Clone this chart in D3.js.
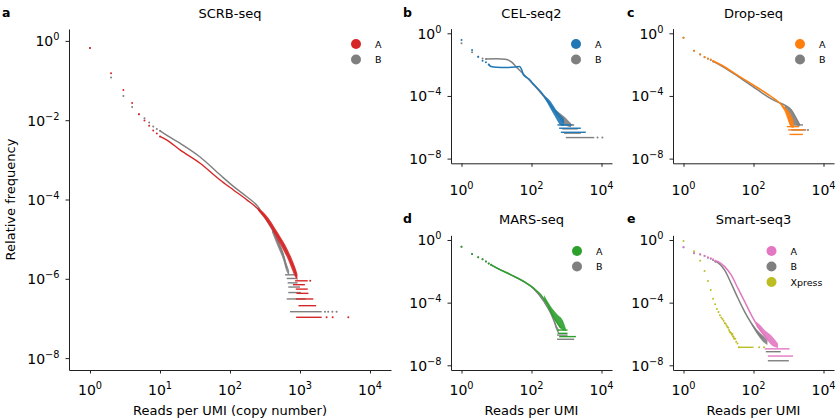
<!DOCTYPE html>
<html><head><meta charset="utf-8">
<script src="https://cdn.jsdelivr.net/npm/d3@7"></script>
<style>body{margin:0;background:#fff} text{font-family:"DejaVu Sans",sans-serif;fill:#000}</style>
</head><body><svg id="c" width="838" height="419"></svg>
<script>
// ---------------- DATA (reads per UMI, relative frequency) ----------------
// a: SCRB-seq
const scrbA_dots = [[1,0.66],[2,0.153],[3,0.058],[4,0.027],[5,0.0141],[6,0.0098],[7,0.0072],[8,0.0055],[9,0.0046],[10,0.0039],[2400,1.07e-7],[2930,1.07e-7],[4900,1.07e-7],[1400,8.9e-7]];
const scrbA_curve = [[10,3.9e-3],[12.4,3.2e-3],[19.3,1.78e-3],[37,8.3e-4],[72,3.1e-4],[112,1.74e-4],[174,9.8e-5],[251,5.8e-5],[316,3.7e-5],[398,2.1e-5],[490,1.15e-5],[575,7.2e-6],[676,4.0e-6],[759,2.45e-6],[851,1.5e-6],[891,1.1e-6]];
const scrbA_band = [[251,5.3e-5,6.2e-5],[316,3.2e-5,4.4e-5],[490,8.9e-6,1.41e-5],[676,3.0e-6,5.2e-6],[851,1.12e-6,2.0e-6],[920,9e-7,1.3e-6]];
const scrbA_tail = [[851,1290,8.9e-7],[795,1175,7.1e-7],[870,1290,5.5e-7],[890,1320,4.3e-7],[870,1550,3.1e-7],[950,1700,2.1e-7],[880,2040,1.07e-7]];
const scrbB_dots = [[1,0.66],[2,0.12],[3,0.041],[4,0.0214],[5,0.0141],[6,0.0112],[7,0.0087],[8,0.0069],[9,0.006],[10,0.0054],[2275,1.48e-7],[2530,1.48e-7],[2900,1.48e-7],[3330,1.48e-7]];
const scrbB_curve = [[10,5.4e-3],[12.4,4.2e-3],[19.3,2.63e-3],[37,1.2e-3],[72,4.2e-4],[112,2.14e-4],[174,1.17e-4],[251,6.6e-5],[316,3.5e-5],[398,1.78e-5],[490,7.9e-6],[575,4.0e-6],[646,1.86e-6]];
const scrbB_band = [[398,1.5e-5,2.0e-5],[490,6.0e-6,9.5e-6],[575,3.0e-6,4.8e-6],[646,1.5e-6,2.4e-6],[700,1.2e-6,1.6e-6]];
const scrbB_tail = [[611,850,1.26e-6],[646,894,1.02e-6],[666,924,7.9e-7],[680,1000,6.2e-7],[680,1030,4.5e-7],[646,1200,3.1e-7],[720,2040,1.48e-7]];

// b: CEL-seq2
const celA_dots = [[1,0.37],[2,0.085],[3,0.032],[4,0.018],[5,0.014],[6,0.01]];
const celA_curve = [[6,0.01],[7,7.6e-3],[10,6.8e-3],[20,6.6e-3],[35,7.1e-3],[45,7.6e-3],[52,5e-3],[58,2.4e-3],[68,1.66e-3],[85,1.2e-3],[100,7.9e-4],[186,1.78e-4],[355,2.5e-5],[550,6.3e-6]];
const celA_band = [[230,7.9e-5,1.12e-4],[290,3.2e-5,7.1e-5],[355,1.41e-5,4.5e-5],[450,5.6e-6,2.0e-5],[550,2.5e-6,1.0e-5],[700,1.26e-6,5.6e-6],[850,1.26e-6,3.5e-6]];
const celA_tail = [[550,1480,1.41e-6],[615,2570,8.7e-7],[690,3550,4.8e-7]];
const celB_dots = [[1,0.23],[2,0.062],[3,0.032],[4,0.025],[5,0.023],[7700,2.2e-7],[10600,2.2e-7]];
const celB_curve = [[5,0.023],[10,0.0234],[18,0.022],[26,0.0155],[40,5.9e-3],[96,8.1e-4],[229,8.9e-5],[447,1.29e-5],[700,3.5e-6],[850,2.3e-6]];
const celB_band = [[500,9e-6,1.26e-5],[700,2.5e-6,7.1e-6],[900,1.41e-6,4.5e-6],[1100,1.12e-6,2.8e-6],[1350,1e-6,1.8e-6]];
const celB_tail = [[700,1660,1.41e-6],[760,2100,7.9e-7],[850,2550,4.2e-7],[955,6200,2.2e-7]];

// c: Drop-seq
const dropA_dots = [[1,0.52],[2,0.078],[3,0.046],[4,0.031],[5,0.025],[6,0.021],[7,0.017]];
const dropA_curve = [[7,0.017],[12,9.5e-3],[29,2.8e-3],[69,8.1e-4],[166,2.4e-4],[324,8.9e-5],[500,4.4e-5],[776,1.62e-5],[977,6.2e-6],[1070,2.3e-6],[1175,1.41e-6]];
const dropA_band = [[600,2.5e-5,3.2e-5],[776,1.0e-5,2.0e-5],[977,2.5e-6,1.12e-5],[1175,1.0e-6,6.3e-6],[1400,9e-7,2.5e-6]];
const dropA_tail = [[900,2000,1.1e-6],[980,2900,6.8e-7],[1070,2570,3.5e-7]];
const dropB_dots = [[1,0.52],[2,0.078],[3,0.044],[4,0.03],[5,0.024],[6,0.02],[7,0.016],[3600,6.8e-7]];
const dropB_curve = [[7,0.016],[12,8.5e-3],[29,2.45e-3],[69,6.5e-4],[166,1.7e-4],[324,6.5e-5],[500,4.0e-5],[776,2.6e-5],[1200,1.29e-5],[1660,3.7e-6],[2100,1.41e-6]];
const dropB_band = [[776,1.62e-5,2.6e-5],[1000,5e-6,1.78e-5],[1200,2e-6,1.29e-5],[1660,1.41e-6,3.7e-6],[2100,1.12e-6,1.41e-6]];
const dropB_tail = [[1200,2600,1.41e-6],[1200,3200,6.8e-7]];

// d: MARS-seq
const marsA_dots = [[1,0.37],[2,0.129],[3,0.078],[4,0.059],[5,0.042],[6,0.032],[7,0.026]];
const marsA_curve = [[7,0.026],[10.7,0.0155],[26,5.9e-3],[62,2.2e-3],[117,8.1e-4],[186,3.1e-4],[288,7.1e-5],[398,1.62e-5],[550,4.8e-6],[692,2.3e-6]];
const marsA_band = [[229,1.78e-4,3.1e-4],[363,2.5e-5,5.5e-5],[550,4.8e-6,1.78e-5],[776,1.78e-6,7.8e-6],[955,1.58e-6,2.3e-6]];
const marsA_tail = [[550,1070,1.78e-6],[560,1070,1.1e-6],[617,1860,6.8e-7]];
const marsB_dots = [[1,0.37],[2,0.129],[3,0.078],[4,0.059],[5,0.042],[6,0.032],[7,0.026]];
const marsB_curve = [[7,0.026],[10.7,0.0155],[26,5.9e-3],[62,2.1e-3],[117,7.6e-4],[229,1.15e-4],[355,2.1e-5],[447,6.2e-6],[525,2.3e-6]];
const marsB_band = [[447,5e-6,8e-6],[525,1.6e-6,3.2e-6],[600,1e-6,2e-6]];
const marsB_tail = [[537,1070,8.5e-7],[537,1660,4.6e-7]];

// e: Smart-seq3
const smartA_dots = [[1,0.34],[2,0.15],[3,0.123],[4,0.1],[5,0.078],[6,0.068],[7,0.059],[8,0.048]];
const smartA_curve = [[8,0.048],[9.8,0.042],[15,0.02],[23,5.9e-3],[36,8.1e-4],[56,1.15e-4],[87,1.62e-5],[135,2.95e-6],[186,1.1e-6],[257,4.1e-7]];
const smartA_band = [[120,3.2e-6,6.3e-6],[150,1.58e-6,4e-6],[209,6.3e-7,1.78e-6],[324,2e-7,7.9e-7],[500,1.26e-7,2.5e-7]];
const smartA_tail = [[209,1070,1.12e-7],[257,1350,3.9e-8]];
const smartB_dots = [[1,0.34],[2,0.141],[3,0.117],[4,0.095],[5,0.074],[6,0.063],[7,0.052],[8,0.042]];
const smartB_curve = [[8,0.042],[9.8,0.035],[15,0.012],[23,1.7e-3],[36,1.9e-4],[56,2.6e-5],[87,4.8e-6],[135,1.1e-6],[186,5.2e-7]];
const smartB_band = [[87,4e-6,5.6e-6],[135,7.9e-7,1.58e-6],[186,3.2e-7,7.9e-7],[250,2e-7,4e-7]];
const smartB_tail = [[224,600,7.4e-8],[257,1020,1.95e-8]];
const smartX_dots = [[1,0.87],[2,0.19],[3,0.047],[4,0.0105],[5,2.45e-3],[6,6.5e-4],[7,1.78e-4],[8,7.9e-5],[9,4e-5],[10,2.5e-5],[11,1.58e-5],[12,1.12e-5],[13,8.9e-6],[14,7.1e-6],[15,5e-6],[16,4.5e-6],[17,3.5e-6],[18,2.8e-6],[19,2.5e-6],[20,1.78e-6],[21,1.41e-6],[22,1.26e-6],[23,1.12e-6],[24,8.9e-7],[25,1e-6],[26,7.1e-7],[27,6.3e-7],[28,5e-7],[30,5e-7],[32,3.2e-7],[35,2.5e-7],[38,1.41e-7],[145,1.41e-7],[200,1.41e-7]];
const smartX_tail = [[38,100,1.41e-7]];

const xTicksBig = [1,10,100,1000,10000];
const yTicksBig = [1,1e-2,1e-4,1e-6,1e-8];
const xTicksSmall = [1,100,10000];
const yTicksSmall = [1,1e-4,1e-8];

// ---------------- STYLE / LAYOUT ----------------
const C = {red:"#d62728", grey:"#7f7f7f", blue:"#1f77b4", orange:"#ff7f0e", green:"#2ca02c", pink:"#e377c2", olive:"#bcbd22"};
const XDOM = [Math.pow(10,-0.3), Math.pow(10,4.3)];
const YDOM = [Math.pow(10,-8.3), Math.pow(10,0.3)];

const panels = [
 {letter:"a", lx:2, title:"SCRB-seq", x0:69, x1:391, y0:29, y1:370, titleY:18, xt:xTicksBig, yt:yTicksBig, xtBase:395, xlab:"Reads per UMI (copy number)", ylab:true, leg:[356,44], lw:1.4,
  series:[{n:"B",c:C.grey,dots:scrbB_dots,curve:scrbB_curve,band:scrbB_band,tail:scrbB_tail},{n:"A",c:C.red,dots:scrbA_dots,curve:scrbA_curve,band:scrbA_band,tail:scrbA_tail}], legOrder:["A","B"]},
 {letter:"b", lx:403, title:"CEL-seq2", x0:451, x1:612, y0:28.6, y1:163.3, titleY:18, xt:xTicksSmall, yt:yTicksSmall, xtBase:195, leg:[576,44], lw:1.5,
  series:[{n:"B",c:C.grey,dots:celB_dots,curve:celB_curve,band:celB_band,tail:celB_tail},{n:"A",c:C.blue,dots:celA_dots,curve:celA_curve,band:celA_band,tail:celA_tail}], legOrder:["A","B"]},
 {letter:"c", lx:627, title:"Drop-seq", x0:673, x1:834, y0:28.6, y1:163.3, titleY:18, xt:xTicksSmall, yt:yTicksSmall, xtBase:194.5, leg:[800,44], lw:1.5,
  series:[{n:"B",c:C.grey,dots:dropB_dots,curve:dropB_curve,band:dropB_band,tail:dropB_tail},{n:"A",c:C.orange,dots:dropA_dots,curve:dropA_curve,band:dropA_band,tail:dropA_tail}], legOrder:["A","B"]},
 {letter:"d", lx:403, title:"MARS-seq", x0:451, x1:612, y0:235.3, y1:370, titleY:224, xt:xTicksSmall, yt:yTicksSmall, xtBase:394.5, xlab:"Reads per UMI", leg:[577,251], lw:1.5,
  series:[{n:"B",c:C.grey,dots:marsB_dots,curve:marsB_curve,band:marsB_band,tail:marsB_tail},{n:"A",c:C.green,dots:marsA_dots,curve:marsA_curve,band:marsA_band,tail:marsA_tail}], legOrder:["A","B"]},
 {letter:"e", lx:627, title:"Smart-seq3", x0:673, x1:834, y0:235.3, y1:370, titleY:224, xt:xTicksSmall, yt:yTicksSmall, xtBase:394.5, xlab:"Reads per UMI", leg:[771.5,251], lw:1.5,
  series:[{n:"B",c:C.grey,dots:smartB_dots,curve:smartB_curve,band:smartB_band,tail:smartB_tail},{n:"A",c:C.pink,dots:smartA_dots,curve:smartA_curve,band:smartA_band,tail:smartA_tail},{n:"Xpress",c:C.olive,dots:smartX_dots,tail:smartX_tail}], legOrder:["A","B","Xpress"]}
];

const svg = d3.select("#c");
const sup = e => (e < 0 ? "\u2212" + (-e) : "" + e);

panels.forEach(p => {
  const x = d3.scaleLog().domain(XDOM).range([p.x0, p.x1]);
  const y = d3.scaleLog().domain(YDOM).range([p.y1, p.y0]);
  const g = svg.append("g");

  p.series.forEach(s => {
    if (s.band) g.append("path").datum(s.band)
      .attr("d", d3.area().x(d=>x(d[0])).y0(d=>y(d[1])).y1(d=>y(d[2])).curve(d3.curveMonotoneX))
      .attr("fill", s.c).attr("opacity", 0.9);
    if (s.curve) g.append("path").datum(s.curve)
      .attr("d", d3.line().x(d=>x(d[0])).y(d=>y(d[1])).curve(d3.curveMonotoneX))
      .attr("fill","none").attr("stroke", s.c).attr("stroke-width", p.lw);
    if (s.tail) g.selectAll(null).data(s.tail).join("line")
      .attr("x1", d=>x(d[0])).attr("x2", d=>x(d[1])).attr("y1", d=>y(d[2])).attr("y2", d=>y(d[2]))
      .attr("stroke", s.c).attr("stroke-width", 1.4);
    if (s.dots) g.selectAll(null).data(s.dots).join("circle")
      .attr("cx", d=>x(d[0])).attr("cy", d=>y(d[1])).attr("r", 1.0).attr("fill", s.c);
  });

  const ax = svg.append("g").attr("transform", `translate(0,${p.y1})`)
    .call(d3.axisBottom(x).tickValues(p.xt).tickFormat(()=>"").tickSize(3.5).tickSizeOuter(0));
  const ay = svg.append("g").attr("transform", `translate(${p.x0},0)`)
    .call(d3.axisLeft(y).tickValues(p.yt).tickFormat(()=>"").tickSize(3.5).tickSizeOuter(0));
  [ax, ay].forEach(a => { a.selectAll("path,line").attr("stroke","#222").attr("stroke-width",1); a.selectAll("text").remove(); });

  p.xt.forEach(v => {
    const t = svg.append("text").attr("x", x(v)).attr("y", p.xtBase).attr("text-anchor","middle").attr("font-size",14);
    t.append("tspan").text("10");
    t.append("tspan").attr("dy",-6).attr("font-size",9.8).text(sup(Math.round(Math.log10(v))));
  });
  p.yt.forEach(v => {
    const t = svg.append("text").attr("x", p.x0 - 9.5).attr("y", y(v) + 5.5).attr("text-anchor","end").attr("font-size",14);
    t.append("tspan").text("10");
    t.append("tspan").attr("dy",-6).attr("font-size",9.8).text(sup(Math.round(Math.log10(v))));
  });

  svg.append("text").attr("x",(p.x0+p.x1)/2).attr("y",p.titleY).attr("text-anchor","middle").attr("font-size",13).text(p.title);
  svg.append("text").attr("x",p.lx).attr("y",p.titleY-1).attr("font-size",12.5).attr("font-weight","bold").text(p.letter);
  if (p.xlab) svg.append("text").attr("x",(p.x0+p.x1)/2).attr("y",414.5).attr("text-anchor","middle").attr("font-size",13).text(p.xlab);
  if (p.ylab) svg.append("text").attr("transform",`translate(14.5,${(p.y0+p.y1)/2}) rotate(-90)`).attr("text-anchor","middle").attr("font-size",13).text("Relative frequency");

  p.legOrder.forEach((nm, i) => {
    const s = p.series.find(q => q.n === nm);
    const cy = p.leg[1] + i*15.5;
    svg.append("circle").attr("cx", p.leg[0]).attr("cy", cy).attr("r", 5).attr("fill", s.c);
    svg.append("text").attr("x", p.leg[0] + 19).attr("y", cy + 3.5).attr("font-size", 9.5).text(nm);
  });
});
</script></body></html>
